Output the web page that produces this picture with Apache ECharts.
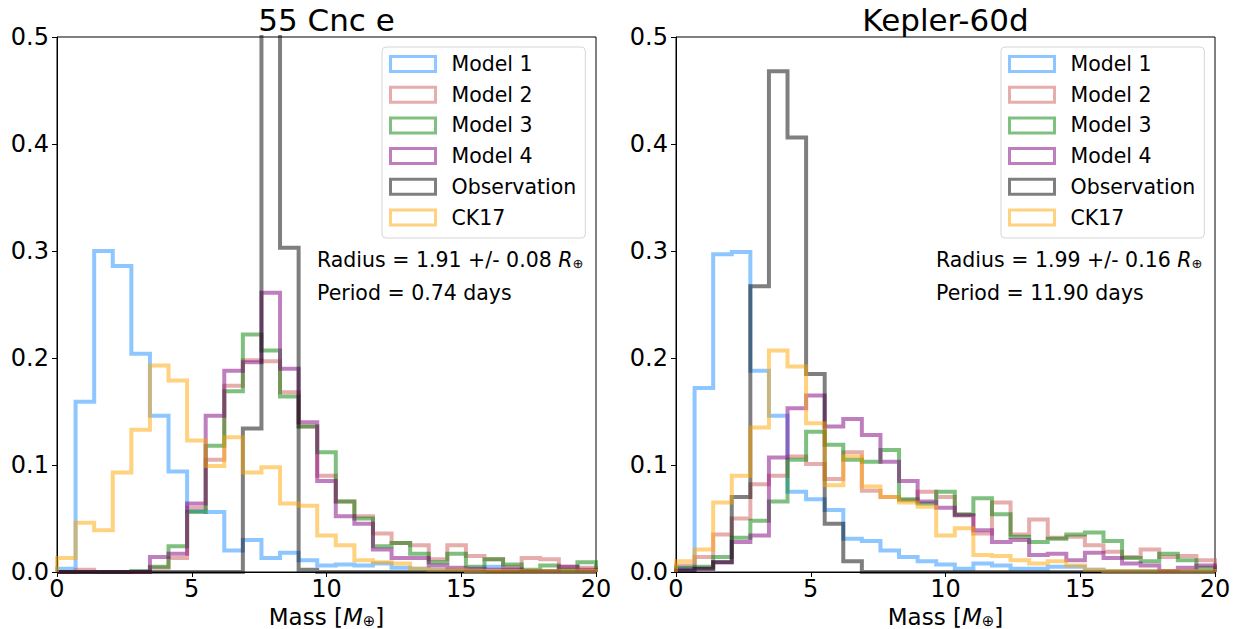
<!DOCTYPE html>
<html>
<head>
<meta charset="utf-8">
<script src="https://cdn.jsdelivr.net/npm/echarts@6/dist/echarts.min.js"></script>
<style>
html,body{margin:0;padding:0;background:#fff;}
#chart{width:1241px;height:629px;}
</style>
</head>
<body>
<div id="chart"></div>
<script>
// ---- data (density histograms, 29 equal bins from 0 to 20 M_earth) ----
const seriesNames = ['Model 1', 'Model 2', 'Model 3', 'Model 4', 'Observation', 'CK17'];
const panelTitles = ['55 Cnc e', 'Kepler-60d'];
const radiusTexts = ['Radius = 1.91 +/- 0.08 ', 'Radius = 1.99 +/- 0.16 '];
const periodTexts = ['Period = 0.74 days', 'Period = 11.90 days'];
const xTicks = [0, 5, 10, 15, 20];
const yTicks = [0.0, 0.1, 0.2, 0.3, 0.4, 0.5];
const binCount = 29;
const massMin = 0;
const massMax = 20;

// 55 Cnc e
const cnc_m1  = [0.003,0.159,0.300,0.286,0.204,0.146,0.094,0.057,0.056,0.020,0.030,0.013,0.018,0.011,0.006,0.007,0.006,0.008,0.004,0.003,0.002,0.002,0.001,0.005,0.003,0.001,0.001,0.001,0.001];
const cnc_m2  = [0,0.002,0,0,0,0.004,0.013,0.060,0.105,0.174,0.198,0.197,0.168,0.136,0.090,0.066,0.052,0.036,0.027,0.025,0.012,0.025,0.015,0.012,0.005,0.013,0.012,0.005,0.004];
const cnc_m3  = [0,0,0,0,0.001,0.005,0.024,0.056,0.118,0.169,0.222,0.207,0.164,0.136,0.112,0.066,0.050,0.024,0.027,0.017,0.009,0.017,0.005,0.012,0.007,0.002,0.006,0.002,0.009];
const cnc_m4  = [0,0,0,0,0,0.014,0.017,0.064,0.146,0.188,0.196,0.261,0.190,0.140,0.085,0.052,0.045,0.021,0.013,0.013,0.006,0.004,0.003,0.002,0.002,0.001,0.001,0.005,0.002];
const cnc_obs = [0,0,0,0,0,0,0,0,0,0,0.134,1.01,0.303,0.002,0,0,0,0,0,0,0,0,0,0,0,0,0,0,0];
const cnc_ck  = [0.013,0.046,0.039,0.093,0.133,0.193,0.179,0.123,0.099,0.126,0.093,0.098,0.064,0.062,0.034,0.025,0.011,0.009,0.008,0.003,0.002,0.002,0.001,0.001,0.001,0.001,0.001,0.001,0.001];

// Kepler-60d
const kep_m1  = [0.003,0.172,0.297,0.299,0.188,0.146,0.075,0.068,0.058,0.031,0.029,0.020,0.014,0.010,0.007,0.003,0.008,0.006,0.003,0.003,0.005,0.005,0.002,0.001,0.001,0.001,0.001,0.001,0.001];
const kep_m2  = [0.006,0.014,0.035,0.050,0.082,0.090,0.108,0.101,0.087,0.112,0.076,0.070,0.067,0.075,0.070,0.053,0.036,0.065,0.035,0.049,0.032,0.033,0.025,0.019,0.014,0.021,0.014,0.015,0.011];
const kep_m3  = [0.004,0.005,0.014,0.032,0.048,0.066,0.105,0.131,0.119,0.105,0.103,0.114,0.068,0.064,0.075,0.054,0.069,0.054,0.033,0.028,0.031,0.035,0.037,0.029,0.013,0.010,0.017,0.011,0.004];
const kep_m4  = [0.002,0.003,0.009,0.028,0.034,0.107,0.153,0.165,0.136,0.143,0.128,0.103,0.085,0.066,0.060,0.053,0.039,0.028,0.030,0.016,0.017,0.011,0.018,0.013,0.008,0.006,0.001,0.004,0.006];
const kep_obs = [0.001,0.003,0.009,0.070,0.267,0.468,0.406,0.185,0.045,0.010,0,0,0,0,0,0,0,0,0,0,0,0,0,0,0,0,0,0,0];
const kep_ck  = [0.010,0.021,0.065,0.090,0.135,0.207,0.192,0.139,0.081,0.108,0.080,0.070,0.065,0.061,0.034,0.041,0.016,0.015,0.011,0.008,0.010,0.006,0.002,0.001,0.001,0.001,0.001,0.001,0.001];

const panels = [
  [cnc_m1, cnc_m2, cnc_m3, cnc_m4, cnc_obs, cnc_ck],
  [kep_m1, kep_m2, kep_m3, kep_m4, kep_obs, kep_ck]
];

// ---- styling ----
const colors = ['rgba(30,144,255,0.5)', 'rgba(205,92,92,0.5)', 'rgba(0,128,0,0.5)',
                'rgba(128,0,128,0.5)', 'rgba(0,0,0,0.5)', 'rgba(255,165,0,0.5)'];
const FONT = '"DejaVu Sans", "Liberation Sans", sans-serif';
const gridLefts = [57, 676];
const gridTop = 37, gridW = 539, gridH = 535;

// build step-outline points (matplotlib histtype="step") from bin values
function stepOutline(vals) {
  const w = (massMax - massMin) / binCount;
  const pts = [[massMin, 0]];
  vals.forEach((v, i) => {
    pts.push([massMin + i * w, v]);
    pts.push([massMin + (i + 1) * w, v]);
  });
  pts.push([massMax, 0]);
  return pts;
}

const grids = [], xAxes = [], yAxes = [], series = [], legends = [], graphics = [];
panels.forEach((sets, p) => {
  grids.push({left: gridLefts[p], top: gridTop, width: gridW, height: gridH,
              outerBoundsMode: 'none', containLabel: false,
              show: true, borderColor: '#000', borderWidth: 1, backgroundColor: 'transparent'});
  xAxes.push({
    type: 'value', gridIndex: p, min: xTicks[0], max: xTicks[xTicks.length - 1], interval: 5,
    axisLine: {show: true, onZero: false, lineStyle: {color: '#000', width: 1}},
    axisTick: {show: true, length: 5, lineStyle: {color: '#000', width: 1}},
    axisLabel: {fontSize: 24, fontFamily: FONT, color: '#000', margin: 5},
    splitLine: {show: false},
    name: '{n|Mass [}{i|M}{s|⊕}{n|]}', nameLocation: 'middle', nameGap: 30,
    nameTextStyle: {
      lineHeight: 22,
      rich: {
        n: {fontSize: 23, lineHeight: 22, fontFamily: FONT, color: '#000'},
        i: {fontSize: 23, lineHeight: 22, fontFamily: FONT, fontStyle: 'italic', color: '#000'},
        s: {fontSize: 15, lineHeight: 14, fontFamily: FONT, color: '#000', verticalAlign: 'bottom'}
      }
    }
  });
  yAxes.push({
    type: 'value', gridIndex: p, min: yTicks[0], max: yTicks[yTicks.length - 1], interval: 0.1,
    axisLine: {show: true, lineStyle: {color: '#000', width: 1}},
    axisTick: {show: true, length: 5, lineStyle: {color: '#000', width: 1}},
    axisLabel: {fontSize: 24, fontFamily: FONT, color: '#000', margin: 8,
                formatter: v => v.toFixed(1)},
    splitLine: {show: false}
  });
  sets.forEach((vals, s) => {
    series.push({
      name: seriesNames[s], type: 'line', xAxisIndex: p, yAxisIndex: p,
      data: stepOutline(vals), showSymbol: false, symbol: 'none', clip: true,
      lineStyle: {color: colors[s], width: 4, join: 'miter'},
      itemStyle: {color: colors[s]},
      emphasis: {disabled: true}, silent: true, animation: false
    });
  });
  legends.push({
    orient: 'vertical', left: gridLefts[p] + 325, top: 47,
    itemWidth: 45, itemHeight: 15, itemGap: 9.7,
    padding: [6.5, 9, 10, 7],
    backgroundColor: 'rgba(255,255,255,0.8)', borderColor: '#d6d6d6', borderWidth: 1, borderRadius: 4,
    selectedMode: false,
    textStyle: {fontSize: 20.5, fontFamily: FONT, color: '#000', padding: [0, 0, 0, 11]},
    data: seriesNames.map((n, i) => ({
      name: n, icon: 'rect',
      itemStyle: {color: 'rgba(255,255,255,0)', borderColor: colors[i], borderWidth: 3}
    }))
  });
  const cx = gridLefts[p] + gridW / 2;
  graphics.push({
    type: 'text', x: cx, y: 20,
    style: {text: panelTitles[p], font: '31px ' + FONT, fill: '#000', align: 'center', verticalAlign: 'middle'}
  });
  graphics.push({
    type: 'text', x: gridLefts[p] + 260, y: 260,
    style: {
      text: '{n|' + radiusTexts[p] + '}{i|R}{s|⊕}',
      verticalAlign: 'middle',
      rich: {
        n: {fontSize: 20.5, lineHeight: 20, fontFamily: FONT, fill: '#000'},
        i: {fontSize: 20.5, lineHeight: 20, fontFamily: FONT, fontStyle: 'italic', fill: '#000'},
        s: {fontSize: 13, lineHeight: 12, fontFamily: FONT, fill: '#000', verticalAlign: 'bottom'}
      }
    }
  });
  graphics.push({
    type: 'text', x: gridLefts[p] + 260, y: 293,
    style: {text: periodTexts[p], font: '20.5px ' + FONT, fill: '#000', verticalAlign: 'middle'}
  });
});

const chart = echarts.init(document.getElementById('chart'), null, {renderer: 'svg'});
chart.setOption({
  animation: false,
  backgroundColor: '#fff',
  grid: grids, xAxis: xAxes, yAxis: yAxes, series: series,
  legend: legends, graphic: graphics
});
</script>
</body>
</html>
